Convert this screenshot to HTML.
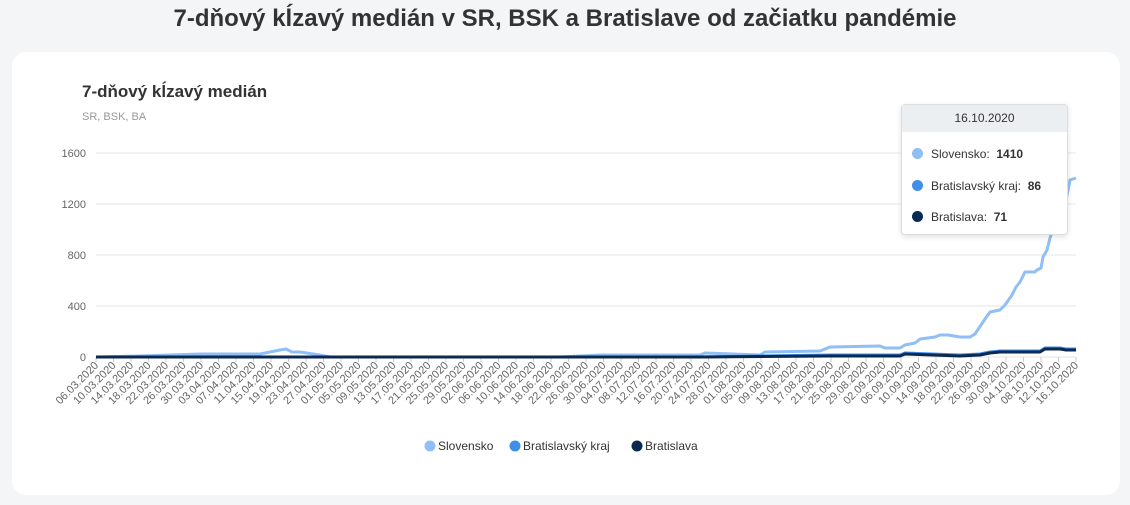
<!DOCTYPE html>
<html><head><meta charset="utf-8"><style>
body{margin:0;width:1130px;height:505px;background:#f4f5f6;font-family:"Liberation Sans",sans-serif;overflow:hidden;position:relative}
.h{position:absolute;top:5px;left:0;width:1130px;text-align:center;font-size:24px;font-weight:bold;color:#333}
.card{position:absolute;left:12px;top:52px;width:1108px;height:443px;background:#fff;border-radius:14px}
svg{position:absolute;left:0;top:0}
.tt{position:absolute;left:901px;top:104px;width:165px;height:129px;background:#fff;border:1px solid #ddd;border-radius:4px;box-shadow:0 2px 6px rgba(0,0,0,.12);font-size:12px;color:#333}
.tt .hd{background:#eceff1;height:27px;line-height:27px;text-align:center;font-size:12px}
.tt .r{position:absolute;left:10px;height:14px;line-height:14px}
.tt .d{display:inline-block;width:11px;height:11px;border-radius:50%;vertical-align:middle;margin-right:8px;margin-top:-2px}
</style></head><body>
<div class="h">7-dňový kĺzavý medián v SR, BSK a Bratislave od začiatku pandémie</div>
<div class="card"></div>
<svg id="s" width="1130" height="505"></svg>
<div class="tt"><div class="hd">16.10.2020</div>
<div class="r" style="top:42px"><span class="d" style="background:#90bef7"></span>Slovensko:&nbsp; <b>1410</b></div>
<div class="r" style="top:74px"><span class="d" style="background:#3f8fe8"></span>Bratislavský kraj:&nbsp; <b>86</b></div>
<div class="r" style="top:105px"><span class="d" style="background:#0b2a52"></span>Bratislava:&nbsp; <b>71</b></div>
</div>
<script>
var s=document.getElementById('s'),h='';
h+='<text x="82" y="97" font-size="17" font-weight="bold" fill="#333">7-dňový kĺzavý medián</text>';
h+='<text x="82" y="120" font-size="11" fill="#999">SR, BSK, BA</text>';
[0,400,800,1200,1600].forEach(function(v){var y=357-v*0.1275;
h+='<line x1="96" x2="1076" y1="'+y+'" y2="'+y+'" stroke="#e6e6e6"/>';
h+='<text x="86" y="'+(y+4)+'" font-size="11" fill="#666" text-anchor="end">'+v+'</text>';});
var d=new Date(2020,2,6);
for(var i=0;i<57;i++){var x=96+i*980/56;var dd=new Date(d.getTime()+i*4*864e5+3600e3*3);
var t=('0'+dd.getDate()).slice(-2)+'.'+('0'+(dd.getMonth()+1)).slice(-2)+'.2020';
h+='<line x1="'+x+'" x2="'+x+'" y1="357" y2="362" stroke="#ccc"/>';
h+='<text transform="translate('+(x+3)+',366) rotate(-45)" font-size="11" fill="#666" text-anchor="end">'+t+'</text>';}
var sk=[[96,357],[140,356],[200,354],[260,354],[280,350],[286,349],[292,352],[300,352],[320,355],[330,357],[560,357],[600,355],[700,355],[705,353],[760,355],[765,352],[820,351],[830,347],[880,346],[885,348],[900,348],[905,345],[915,343],[920,339],[935,337],[940,335],[948,335],[960,337],[970,337],[975,334],[985,319],[990,312],[1000,310],[1005,305],[1012,295],[1016,287],[1020,282],[1025,272],[1030,272],[1035,272],[1037,270],[1041,268],[1043,257],[1047,250],[1050,238],[1054,227],[1058,216],[1062,206],[1066,200],[1070,180],[1076,178]];
var bk=[[96,357],[700,357],[830,355],[900,355],[905,353],[960,355],[980,354],[990,352],[1000,351],[1040,351],[1045,348],[1060,348],[1066,349],[1076,349]];
var ba=[[96,357],[700,357],[830,356],[900,356],[905,354],[960,356],[980,355],[990,353],[1000,352],[1040,352],[1045,349],[1060,349],[1066,350],[1076,350]];
function p(a,c){return '<polyline fill="none" stroke="'+c+'" stroke-width="3" stroke-linejoin="round" points="'+a.join(' ')+'"/>';}
h+=p(sk,'#90bef7')+p(bk,'#3f8fe8')+p(ba,'#0b2a52');
var L=[[430,'#90bef7','Slovensko'],[515,'#3f8fe8','Bratislavský kraj'],[637,'#0b2a52','Bratislava']];
L.forEach(function(l){h+='<circle cx="'+l[0]+'" cy="446" r="5.5" fill="'+l[1]+'"/><text x="'+(l[0]+8)+'" y="450" font-size="12" fill="#333">'+l[2]+'</text>';});
s.innerHTML=h;
</script>
</body></html>
